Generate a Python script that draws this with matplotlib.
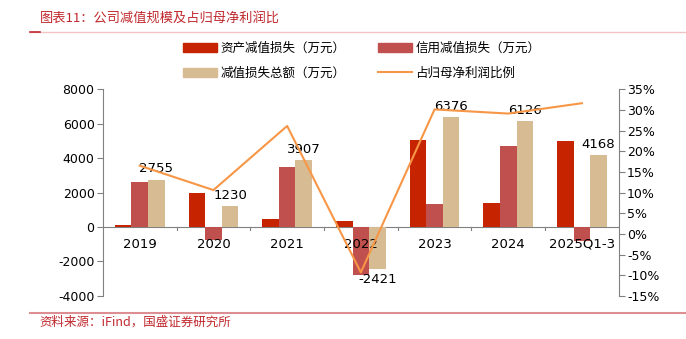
import matplotlib
matplotlib.use("Agg")
import matplotlib.pyplot as plt
import numpy as np
from matplotlib.patches import Patch
from matplotlib.lines import Line2D

plt.rcParams['font.family'] = ['DejaVu Sans', 'Noto Sans CJK SC']

categories = ["2019", "2020", "2021", "2022", "2023", "2024", "2025Q1-3"]
asset_loss = [140, 2000, 440, 350, 5050, 1400, 4990]
credit_loss = [2615, -770, 3467, -2771, 1326, 4726, -822]
total_loss = [2755, 1230, 3907, -2421, 6376, 6126, 4168]
ratio_pct = [16.5, 10.6, 26.1, -9.3, 30.1, 29.1, 31.6]

left_ticks = [-4000, -2000, 0, 2000, 4000, 6000, 8000]
right_ticks = [-15, -10, -5, 0, 5, 10, 15, 20, 25, 30, 35]

c_asset = "#C62400"
c_credit = "#C0504D"
c_total = "#D7BB93"
c_line = "#F79646"
red_text = "#C0282D"

fig = plt.figure(figsize=(6.86, 3.39), dpi=100)
ax = fig.add_axes([0.150, 0.127, 0.752, 0.610])
ax2 = ax.twinx()

x = np.arange(len(categories))
w = 0.225
ax.bar(x - w, asset_loss, w, color=c_asset, zorder=2)
ax.bar(x, credit_loss, w, color=c_credit, zorder=2)
ax.bar(x + w, total_loss, w, color=c_total, zorder=2)

for xi, v in zip(x, total_loss):
    if v >= 0:
        ax.annotate(str(v), (xi + w, v), xytext=(0, 3), textcoords="offset points",
                    ha="center", va="bottom", fontsize=9.5, color="black", zorder=5)
    else:
        ax.annotate(str(v), (xi + w, v), xytext=(0, -3), textcoords="offset points",
                    ha="center", va="top", fontsize=9.5, color="black", zorder=5)

ax.set_xlim(-0.5, len(categories) - 0.5)
ax.set_ylim(-4000, 8000)
ax.set_yticks(left_ticks)
ax.set_yticklabels([str(t) for t in left_ticks], fontsize=9)
ax2.set_ylim(-15, 35)
ax2.set_yticks(right_ticks)
ax2.set_yticklabels([f"{t}%" for t in right_ticks], fontsize=9)

ax2.plot(x, ratio_pct, color=c_line, lw=1.5, zorder=3)

for a in (ax, ax2):
    a.spines['top'].set_visible(False)
    a.spines['bottom'].set_visible(False)
    a.spines['left'].set_color("#808080")
    a.spines['right'].set_color("#808080")
    a.tick_params(axis='y', colors="#808080", labelcolor="black", length=4, width=0.8, pad=2)
ax.spines['right'].set_visible(False)
ax2.spines['left'].set_visible(False)

# category axis at zero
ax.axhline(0, color="#808080", lw=0.8, zorder=1)
ax.set_xticks([])
for b in np.arange(0.5, len(categories) - 0.5, 1):
    ax.plot([b, b], [0, -150], color="#808080", lw=0.8, clip_on=False, zorder=1)
for xi, c in zip(x, categories):
    ax.text(xi, -1000, c, ha="center", va="center", fontsize=9.5, zorder=4)

# legend (row-major order in 2 columns)
handles = [Patch(color=c_asset), Patch(color=c_total), Patch(color=c_credit),
           Line2D([0], [0], color=c_line, lw=1.5)]
labels = ["资产减值损失（万元）", "减值损失总额（万元）", "信用减值损失（万元）", "占归母净利润比例"]
leg = fig.legend(handles, labels, ncol=2, loc="center", bbox_to_anchor=(0.527, 0.820),
                 frameon=False, prop={'family': ['Noto Sans CJK SC'], 'size': 9},
                 handlelength=2.7, handleheight=0.75, columnspacing=2.6, labelspacing=0.95,
                 handletextpad=0.3)

# title and footer
fig.text(0.058, 0.945, "图表11：公司减值规模及占归母净利润比", fontsize=9.5, color=red_text,
         ha="left", va="center", style="italic", family=['Noto Sans CJK SC'])
fig.add_artist(Line2D([0.044, 1.0], [0.905, 0.905], color="#F2C4C6", lw=1.0))
fig.add_artist(Line2D([0.044, 0.058], [0.905, 0.905], color="#C0282D", lw=1.2))
fig.add_artist(Line2D([0.044, 1.0], [0.077, 0.077], color="#DC8E92", lw=1.5))
fig.text(0.058, 0.050, "资料来源：iFind，国盛证券研究所", fontsize=9, color=red_text,
         ha="left", va="center", style="italic", family=['Noto Sans CJK SC', 'DejaVu Sans'])

fig.savefig("out.png", dpi=100)
